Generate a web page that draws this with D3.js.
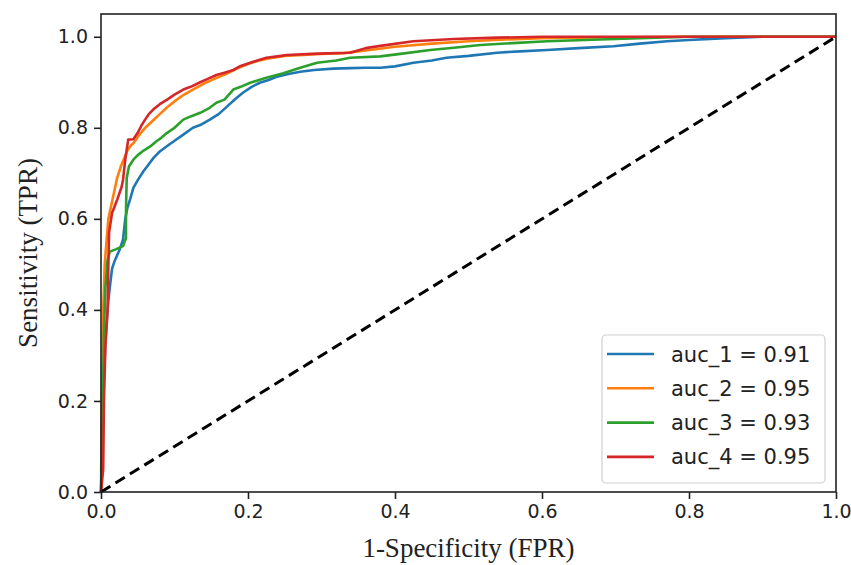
<!DOCTYPE html>
<html><head><meta charset="utf-8">
<script src="https://cdn.jsdelivr.net/npm/d3@7"></script>
<style>html,body{margin:0;padding:0;background:#fff;}</style>
</head><body>
<script>
const xTicks = [0, 0.2, 0.4, 0.6, 0.8, 1.0];
const yTicks = [0, 0.2, 0.4, 0.6, 0.8, 1.0];
const seriesNames = ["auc_1 = 0.91", "auc_2 = 0.95", "auc_3 = 0.93", "auc_4 = 0.95"];
const seriesColors = ["#1f77b4", "#ff7f0e", "#2ca02c", "#d62728"];

const roc1 = [[0,0],[0.002,0.1],[0.004,0.25],[0.006,0.33],[0.008,0.38],[0.01,0.42],[0.012,0.45],[0.015,0.49],[0.018,0.505],[0.022,0.52],[0.026,0.535],[0.03,0.555],[0.033,0.6],[0.036,0.625],[0.04,0.645],[0.044,0.668],[0.05,0.685],[0.058,0.705],[0.065,0.72],[0.072,0.735],[0.08,0.748],[0.09,0.76],[0.103,0.775],[0.112,0.785],[0.125,0.8],[0.135,0.806],[0.148,0.818],[0.16,0.83],[0.171,0.846],[0.182,0.862],[0.193,0.877],[0.205,0.89],[0.216,0.899],[0.228,0.905],[0.239,0.912],[0.255,0.918],[0.271,0.923],[0.29,0.927],[0.316,0.93],[0.34,0.931],[0.36,0.932],[0.38,0.932],[0.4,0.935],[0.425,0.943],[0.45,0.948],[0.47,0.954],[0.5,0.958],[0.539,0.965],[0.57,0.968],[0.607,0.971],[0.65,0.975],[0.697,0.979],[0.733,0.985],[0.77,0.99],[0.8,0.993],[0.85,0.997],[0.9,1.0],[1,1]];
const roc2 = [[0,0],[0.001,0.2],[0.003,0.4],[0.005,0.5],[0.008,0.56],[0.01,0.6],[0.014,0.63],[0.018,0.66],[0.022,0.69],[0.027,0.715],[0.032,0.735],[0.036,0.75],[0.04,0.76],[0.045,0.768],[0.05,0.78],[0.056,0.792],[0.062,0.803],[0.07,0.815],[0.08,0.83],[0.09,0.845],[0.1,0.858],[0.112,0.872],[0.125,0.884],[0.14,0.897],[0.155,0.908],[0.17,0.918],[0.185,0.93],[0.2,0.94],[0.215,0.948],[0.23,0.953],[0.25,0.958],[0.275,0.96],[0.3,0.962],[0.33,0.964],[0.36,0.97],[0.4,0.978],[0.45,0.985],[0.5,0.99],[0.55,0.994],[0.6,0.997],[0.7,0.999],[0.8,1.0],[1,1]];
const roc3 = [[0,0],[0.002,0.15],[0.004,0.35],[0.006,0.45],[0.009,0.51],[0.012,0.528],[0.02,0.533],[0.03,0.54],[0.034,0.558],[0.034,0.62],[0.035,0.69],[0.038,0.715],[0.044,0.73],[0.05,0.74],[0.058,0.75],[0.067,0.759],[0.075,0.77],[0.082,0.778],[0.09,0.789],[0.1,0.8],[0.112,0.818],[0.122,0.825],[0.135,0.833],[0.146,0.842],[0.157,0.855],[0.168,0.862],[0.18,0.884],[0.19,0.89],[0.203,0.899],[0.215,0.905],[0.225,0.91],[0.248,0.92],[0.271,0.932],[0.294,0.943],[0.32,0.948],[0.339,0.954],[0.38,0.957],[0.41,0.963],[0.448,0.971],[0.48,0.976],[0.516,0.982],[0.56,0.986],[0.607,0.99],[0.7,0.995],[0.8,1.0],[1,1]];
const roc4 = [[0,0],[0.003,0.05],[0.004,0.2],[0.006,0.32],[0.009,0.4],[0.01,0.5],[0.011,0.57],[0.015,0.613],[0.018,0.625],[0.022,0.642],[0.028,0.67],[0.03,0.686],[0.033,0.73],[0.037,0.774],[0.044,0.775],[0.05,0.789],[0.055,0.805],[0.06,0.818],[0.065,0.83],[0.071,0.84],[0.08,0.852],[0.09,0.862],[0.1,0.873],[0.112,0.884],[0.122,0.89],[0.135,0.9],[0.146,0.908],[0.157,0.916],[0.168,0.921],[0.18,0.927],[0.19,0.936],[0.203,0.943],[0.215,0.949],[0.225,0.954],[0.24,0.957],[0.253,0.96],[0.294,0.963],[0.339,0.965],[0.36,0.975],[0.38,0.98],[0.425,0.99],[0.48,0.995],[0.539,0.998],[0.6,1.0],[1,1]];
const chanceLine = [[0,0],[1,1]];

const W = 851, H = 565;
const L = 101, R = 836, T = 14, B = 492;

const svg = d3.select("body").append("svg").attr("width", W).attr("height", H)
  .style("background", "#fff");

const x = d3.scaleLinear().domain([0, 1]).range([L, R]);
const y = d3.scaleLinear().domain([0, 1.05]).range([B, T]);

const line = d3.line().x(d => x(d[0])).y(d => y(d[1]));

const plot = svg.append("g");
[roc1, roc2, roc3, roc4].forEach((s, i) => {
  plot.append("path").datum(s).attr("d", line)
    .attr("fill", "none").attr("stroke", seriesColors[i])
    .attr("stroke-width", 2.6).attr("stroke-linejoin", "round");
});
plot.append("path").datum(chanceLine).attr("d", line)
  .attr("fill", "none").attr("stroke", "#000").attr("stroke-width", 3)
  .attr("stroke-dasharray", "11,6");

// axes
const xAxis = svg.append("g").attr("transform", `translate(0,${B})`)
  .call(d3.axisBottom(x).tickValues(xTicks).tickFormat(d3.format(".1f")).tickSize(7).tickPadding(6));
const yAxis = svg.append("g").attr("transform", `translate(${L},0)`)
  .call(d3.axisLeft(y).tickValues(yTicks).tickFormat(d3.format(".1f")).tickSize(7).tickPadding(6));
[xAxis, yAxis].forEach(a => {
  a.select(".domain").remove();
  a.selectAll(".tick line").attr("stroke", "#222").attr("stroke-width", 1.6);
  a.selectAll(".tick text").attr("font-family", "DejaVu Sans").attr("font-size", 19).attr("fill", "#222");
});

// frame
svg.append("rect").attr("x", L).attr("y", T).attr("width", R - L).attr("height", B - T)
  .attr("fill", "none").attr("stroke", "#222").attr("stroke-width", 1.6);

// axis titles
svg.append("text").attr("x", (L + R) / 2).attr("y", 557).attr("text-anchor", "middle")
  .attr("font-family", "Liberation Serif").attr("font-size", 27).attr("fill", "#222")
  .text("1-Specificity (FPR)");
svg.append("text").attr("transform", `translate(37,${(T + B) / 2}) rotate(-90)`)
  .attr("text-anchor", "middle")
  .attr("font-family", "Liberation Serif").attr("font-size", 27).attr("fill", "#222")
  .text("Sensitivity (TPR)");

// legend
const lg = svg.append("g");
lg.append("rect").attr("x", 602).attr("y", 335).attr("width", 223).attr("height", 148)
  .attr("rx", 4).attr("fill", "#fff").attr("fill-opacity", 0.8)
  .attr("stroke", "#d0d0d0").attr("stroke-width", 1.2);
seriesNames.forEach((n, i) => {
  const yy = 354 + i * 34.3;
  lg.append("line").attr("x1", 607).attr("x2", 654).attr("y1", yy).attr("y2", yy)
    .attr("stroke", seriesColors[i]).attr("stroke-width", 2.6);
  lg.append("text").attr("x", 671).attr("y", yy).attr("dy", "0.36em")
    .attr("font-family", "DejaVu Sans").attr("font-size", 21).attr("fill", "#222")
    .text(n);
});
</script>
</body></html>
